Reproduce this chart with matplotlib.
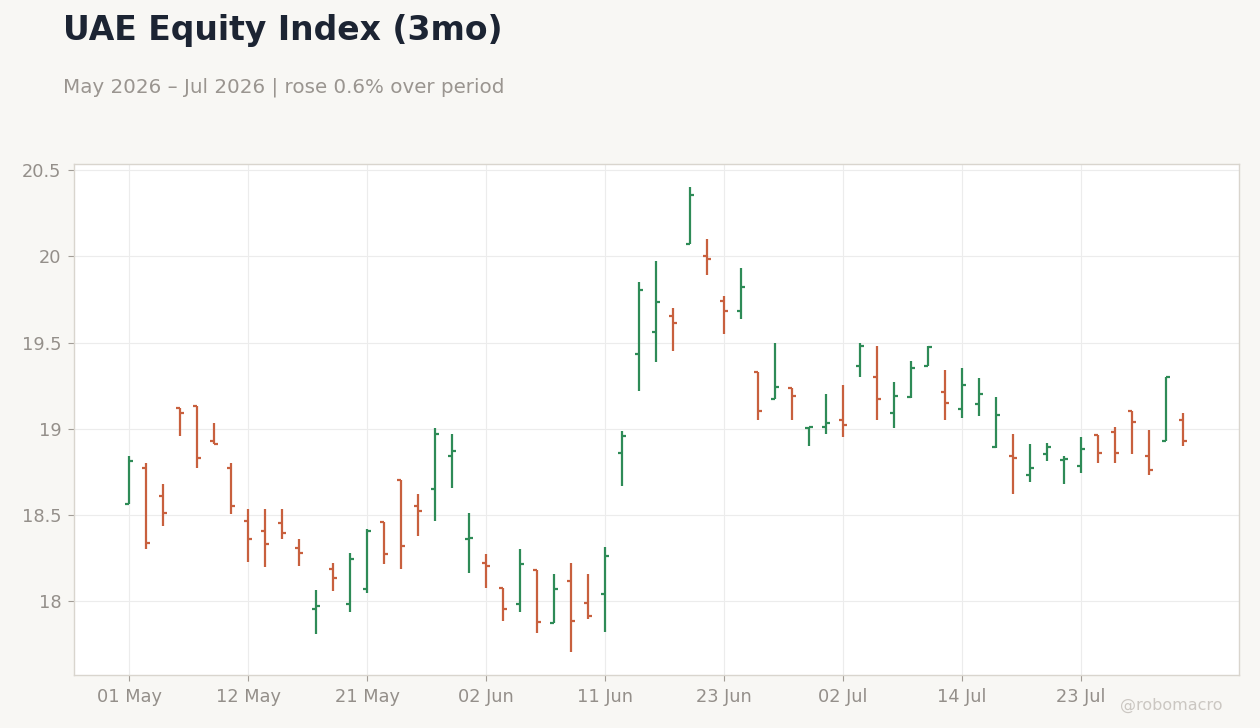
import numpy as np
import matplotlib
matplotlib.use("Agg")
import matplotlib.pyplot as plt

plt.rcParams['font.family'] = 'DejaVu Sans'

# daily OHLC, trading days 01 May - 31 Jul 2026
opens = [18.564, 18.774, 18.612, 19.118, 19.135, 18.931, 18.774, 18.468, 18.410, 18.456,
         18.311, 17.956, 18.190, 17.987, 18.074, 18.458, 18.701, 18.554, 18.653, 18.844,
         18.363, 18.224, 18.080, 17.987, 18.180, 17.877, 18.120, 17.993, 18.045, 18.861,
         19.434, 19.562, 19.654, 20.071, 20.002, 19.741, 19.683, 19.330, 19.172, 19.234,
         19.005, 19.012, 19.052, 19.365, 19.301, 19.093, 19.185, 19.365, 19.214, 19.116,
         19.145, 18.896, 18.844, 18.734, 18.855, 18.818, 18.786, 18.965, 18.983, 19.104,
         18.844, 18.931, 19.051]
highs = [18.842, 18.801, 18.680, 19.118, 19.135, 19.033, 18.801, 18.535, 18.535, 18.535,
         18.361, 18.066, 18.222, 18.280, 18.419, 18.458, 18.701, 18.622, 19.002, 18.969,
         18.512, 18.274, 18.080, 18.303, 18.180, 18.159, 18.222, 18.159, 18.315, 18.987,
         19.849, 19.971, 19.699, 20.400, 20.098, 19.768, 19.930, 19.330, 19.500, 19.234,
         19.013, 19.201, 19.253, 19.500, 19.479, 19.270, 19.392, 19.477, 19.340, 19.351,
         19.294, 19.184, 18.969, 18.911, 18.917, 18.840, 18.952, 18.965, 19.010, 19.104,
         18.992, 19.301, 19.091]
lows = [18.564, 18.305, 18.439, 18.960, 18.774, 18.910, 18.508, 18.230, 18.201, 18.363,
        18.207, 17.813, 18.062, 17.937, 18.051, 18.218, 18.190, 18.381, 18.468, 18.659,
        18.166, 18.080, 17.888, 17.937, 17.819, 17.877, 17.709, 17.900, 17.825, 18.670,
        19.220, 19.388, 19.452, 20.068, 19.892, 19.550, 19.637, 19.054, 19.170, 19.052,
        18.902, 18.971, 18.954, 19.301, 19.052, 19.006, 19.180, 19.365, 19.052, 19.064,
        19.075, 18.888, 18.624, 18.693, 18.815, 18.682, 18.745, 18.803, 18.803, 18.855,
        18.734, 18.931, 18.902]
closes = [18.815, 18.338, 18.514, 19.093, 18.832, 18.913, 18.554, 18.363, 18.334, 18.398,
          18.282, 17.975, 18.138, 18.247, 18.410, 18.276, 18.323, 18.525, 18.971, 18.873,
          18.369, 18.207, 17.958, 18.218, 17.879, 18.074, 17.888, 17.917, 18.265, 18.960,
          19.805, 19.736, 19.614, 20.355, 19.984, 19.683, 19.822, 19.104, 19.243, 19.191,
          19.012, 19.035, 19.025, 19.481, 19.174, 19.191, 19.353, 19.475, 19.151, 19.255,
          19.203, 19.081, 18.832, 18.774, 18.896, 18.823, 18.884, 18.861, 18.861, 19.041,
          18.763, 19.301, 18.931]

tick_labels = ["01 May", "12 May", "21 May", "02 Jun", "11 Jun",
               "23 Jun", "02 Jul", "14 Jul", "23 Jul"]

UP = "#2e8b57"
DOWN = "#c8603e"
BG = "#f8f7f4"
GREY = "#948f8a"

o = np.array(opens)
h = np.array(highs)
l = np.array(lows)
c = np.array(closes)
x = np.arange(len(o))
cols = np.where(c >= o, UP, DOWN)

fig = plt.figure(figsize=(12.6, 7.28), dpi=100, facecolor=BG)
ax = fig.add_axes([0.0587, 0.0728, 0.9246, 0.7019])
ax.set_facecolor("white")

w = 0.22
ax.vlines(x, l, h, colors=cols, linewidth=1.6)
ax.hlines(o, x - w, x, colors=cols, linewidth=1.6)
ax.hlines(c, x, x + w, colors=cols, linewidth=1.6)

ax.set_xlim(-3.24, 65.29)
ax.set_ylim(17.574, 20.534)
ax.set_xticks(x[::7])
ax.set_xticklabels(tick_labels)
ax.set_yticks([18, 18.5, 19, 19.5, 20, 20.5])
ax.set_yticklabels(["18", "18.5", "19", "19.5", "20", "20.5"])

ax.grid(True, color="#ececec", linewidth=0.8)
ax.set_axisbelow(True)
for s in ax.spines.values():
    s.set_color("#d9d5ce")
    s.set_linewidth(1)
ax.tick_params(colors="#a29d97", labelcolor=GREY, labelsize=12.8, length=4, width=0.8, pad=5)

pct = (c[-1] / c[0] - 1) * 100
fig.text(0.05, 0.945, "UAE Equity Index (3mo)", fontsize=23.8, fontweight="bold",
         color="#1c2433", va="baseline")
fig.text(0.05, 0.8735, "May 2026 \u2013 Jul 2026 | rose %.1f%% over period" % pct,
         fontsize=14.3, color="#9a9590", va="baseline")
fig.text(0.97, 0.025, "@robomacro", fontsize=11.5, color="#cbc7c2", ha="right", va="baseline")

fig.savefig("out.png", dpi=100, facecolor=BG)
